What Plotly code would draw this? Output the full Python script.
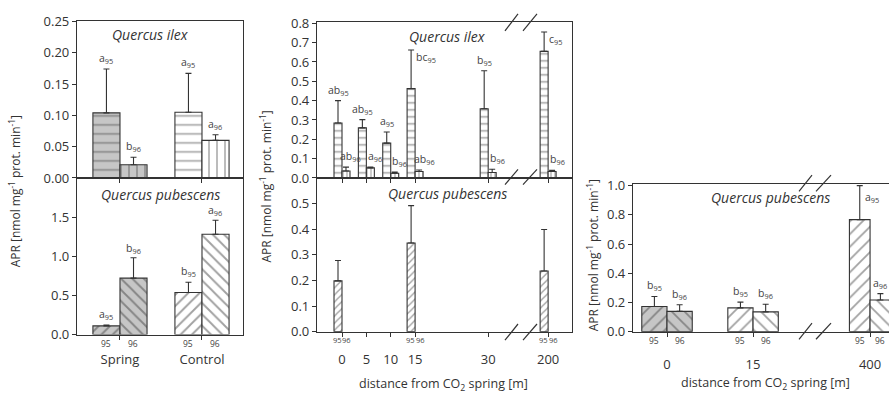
import plotly.graph_objects as go

W, H = 889, 396
FONT = "Open Sans"
TXT = "#333333"
LINE = "#333333"
GRAY = "#c6c6c6"

# ---------------- data ----------------
# Left panel: Spring vs Control, years 95/96
left_sites = ["Spring", "Control"]
left_ilex_95 = [0.104, 0.105]
left_ilex_95_se = [0.070, 0.062]
left_ilex_96 = [0.021, 0.060]
left_ilex_96_se = [0.012, 0.009]
left_ilex_lbl_95 = ["a", "a"]
left_ilex_lbl_96 = ["b", "a"]
left_pub_95 = [0.11, 0.537]
left_pub_95_se = [0.012, 0.13]
left_pub_96 = [0.72, 1.28]
left_pub_96_se = [0.26, 0.18]
left_pub_lbl_95 = ["a", "b"]
left_pub_lbl_96 = ["b", "a"]

# Middle panel: distance from CO2 spring
mid_dist = [0, 5, 10, 15, 30, 200]
mid_ilex_95 = [0.284, 0.259, 0.180, 0.462, 0.358, 0.655]
mid_ilex_95_se = [0.116, 0.043, 0.058, 0.200, 0.197, 0.100]
mid_ilex_96 = [0.036, 0.052, 0.024, 0.033, 0.028, 0.033]
mid_ilex_96_se = [0.020, 0.004, 0.006, 0.008, 0.017, 0.006]
mid_ilex_lbl_95 = ["ab", "ab", "a", "bc", "b", "c"]
mid_ilex_lbl_96 = ["ab", "a", "b", "ab", "b", "b"]
mid_pub_dist = [0, 15, 200]
mid_pub_95 = [0.198, 0.346, 0.237]
mid_pub_95_se = [0.080, 0.146, 0.162]

# Right panel
right_dist = [0, 15, 400]
right_pub_95 = [0.172, 0.163, 0.767]
right_pub_95_se = [0.069, 0.039, 0.233]
right_pub_96 = [0.139, 0.135, 0.217]
right_pub_96_se = [0.045, 0.053, 0.043]
right_lbl_95 = ["b", "b", "a"]
right_lbl_96 = ["b", "b", "a"]

# ---------------- helpers ----------------
def X(px):
    return px / W

def Y(py):
    return 1 - py / H

# broken axes: values beyond the break are placed after the gap
MID_BREAK_AT, MID_AFTER = 30, 42.3
RIGHT_BREAK_AT, RIGHT_AFTER = 15, 35.4

def mid_pos(d):
    return d if d <= MID_BREAK_AT else MID_AFTER

def right_pos(d):
    return d if d <= RIGHT_BREAK_AT else RIGHT_AFTER

fig = go.Figure()

def bar(x, y, se, ax, shape, size, fill, offset, width, sol=0.2):
    n = len(y)
    fills = fill if isinstance(fill, list) else [fill] * n
    fig.add_trace(go.Bar(
        x=x, y=y, xaxis="x" + ax, yaxis="y" + ax,
        offset=offset, width=width,
        marker=dict(color=fills, line=dict(color=LINE, width=1.1),
                    pattern=dict(shape=shape, size=size, solidity=sol,
                                 fgcolor="#1a1a1a", bgcolor=fills, fillmode="overlay")),
        error_y=dict(type="data", symmetric=False, array=se, arrayminus=[0] * n,
                     thickness=1.1, width=3, color=LINE),
        showlegend=False, hoverinfo="skip"))

annots = []

def lbl(ax, x, y, text, xanchor="center", yanchor="bottom", xshift=0, yshift=1, size=10.5):
    annots.append(dict(xref="x" + ax, yref="y" + ax, x=x, y=y, text=text, showarrow=False,
                       xanchor=xanchor, yanchor=yanchor, xshift=xshift, yshift=yshift,
                       font=dict(size=size, color="#444444", family=FONT)))

# ---------------- left panel ----------------
LW = 0.33
left_fill = [GRAY, "white"]
bar(left_sites, left_ilex_95, left_ilex_95_se, "", "-", 9, left_fill, -LW, LW, sol=0.17)
bar(left_sites, left_ilex_96, left_ilex_96_se, "", "|", 8, left_fill, 0, LW, sol=0.18)
bar(left_sites, left_pub_95, left_pub_95_se, "2", "/", 8, left_fill, -LW, LW, sol=0.24)
bar(left_sites, left_pub_96, left_pub_96_se, "2", "\\", 8, left_fill, 0, LW, sol=0.24)
for i, s in enumerate(left_sites):
    lbl("", s, left_ilex_95[i] + left_ilex_95_se[i], left_ilex_lbl_95[i] + "<sub>95</sub>", xshift=-13.5)
    lbl("", s, left_ilex_96[i] + left_ilex_96_se[i], left_ilex_lbl_96[i] + "<sub>96</sub>", xshift=13.5)
    lbl("2", s, left_pub_95[i] + left_pub_95_se[i], left_pub_lbl_95[i] + "<sub>95</sub>", xshift=-13.5)
    lbl("2", s, left_pub_96[i] + left_pub_96_se[i], left_pub_lbl_96[i] + "<sub>96</sub>",
        xshift=13.5, yshift=0)
    lbl("2", s, 0, "95", yanchor="top", xshift=-13.5, yshift=-1, size=8.5)
    lbl("2", s, 0, "96", yanchor="top", xshift=13.5, yshift=-1, size=8.5)

# ---------------- middle panel ----------------
MW = 1.64
mx = [mid_pos(d) for d in mid_dist]
bar(mx, mid_ilex_95, mid_ilex_95_se, "3", "-", 7, "white", -MW, MW, sol=0.22)
bar(mx, mid_ilex_96, mid_ilex_96_se, "3", "|", 4, "white", 0, MW, sol=0.28)
mpx = [mid_pos(d) for d in mid_pub_dist]
bar(mpx, mid_pub_95, mid_pub_95_se, "4", "/", 5, "white", -MW, MW, sol=0.28)
for i, p in enumerate(mx):
    t95 = mid_ilex_95[i] + mid_ilex_95_se[i]
    if mid_ilex_lbl_95[i] in ("bc", "c"):
        lbl("3", p - MW / 2, t95, mid_ilex_lbl_95[i] + "<sub>95</sub>", xanchor="left",
            yanchor="top", xshift=3, yshift=2)
    else:
        lbl("3", p - MW / 2, t95, mid_ilex_lbl_95[i] + "<sub>95</sub>")
    lbl("3", p + MW / 2, mid_ilex_96[i] + mid_ilex_96_se[i],
        mid_ilex_lbl_96[i] + "<sub>96</sub>", xshift=5)
for p in mpx:
    lbl("4", p - MW / 2, 0, "95", yanchor="top", xshift=-1, yshift=-1, size=7.5)
    lbl("4", p + MW / 2, 0, "96", yanchor="top", xshift=1, yshift=-1, size=7.5)

# ---------------- right panel ----------------
rx = [right_pos(d) for d in right_dist]
RW = [4.4, 4.4, 3.6]
right_fill = [GRAY, "white", "white"]
bar(rx, right_pub_95, right_pub_95_se, "5", "/", 9, right_fill, [-w for w in RW], RW, sol=0.2)
bar(rx, right_pub_96, right_pub_96_se, "5", "\\", 9, right_fill, [0] * 3, RW, sol=0.2)
for i, p in enumerate(rx):
    t95 = right_pub_95[i] + right_pub_95_se[i]
    if i == 2:
        lbl("5", p - RW[i] / 2, t95, right_lbl_95[i] + "<sub>95</sub>", xanchor="left",
            yanchor="top", xshift=3, yshift=-2)
    else:
        lbl("5", p - RW[i] / 2, t95, right_lbl_95[i] + "<sub>95</sub>")
    lbl("5", p + RW[i] / 2, right_pub_96[i] + right_pub_96_se[i], right_lbl_96[i] + "<sub>96</sub>")
    lbl("5", p - RW[i] / 2, 0, "95", yanchor="top", yshift=-1, size=8.5)
    lbl("5", p + RW[i] / 2, 0, "96", yanchor="top", yshift=-1, size=8.5)

# ---------------- axes ----------------
tickfont = dict(size=13, color=TXT, family=FONT)
common = dict(showline=True, linecolor=LINE, linewidth=1.2, showgrid=False, zeroline=False,
              ticks="outside", ticklen=4, tickcolor=LINE, tickfont=tickfont)

layout_axes = dict(
    xaxis=dict(common, domain=[X(77), X(243)], anchor="y", type="category",
               categoryorder="array", categoryarray=left_sites, range=[-0.524, 1.5],
               showticklabels=False, mirror=True),
    yaxis=dict(common, domain=[Y(177), Y(13)], anchor="x", range=[0, 0.2501],
               tickvals=[0, 0.05, 0.10, 0.15, 0.20, 0.25], tickformat=".2f", mirror=True),
    xaxis2=dict(common, domain=[X(77), X(243)], anchor="y2", type="category",
                categoryorder="array", categoryarray=left_sites, range=[-0.524, 1.5],
                mirror=True, ticklabelstandoff=9),
    yaxis2=dict(common, domain=[Y(341), Y(177)], anchor="x2", range=[0, 2.0],
                tickvals=[0, 0.5, 1.0, 1.5], tickformat=".1f", mirror=True),
    xaxis3=dict(common, domain=[X(317), X(572)], anchor="y3", range=[-5.13, 47.2],
                tickvals=mx, showticklabels=False, mirror=True),
    yaxis3=dict(common, domain=[Y(177), Y(14)], anchor="x3", range=[0, 0.805],
                tickvals=[i / 10 for i in range(9)], tickformat=".1f", mirror=True),
    xaxis4=dict(common, domain=[X(317), X(572)], anchor="y4", range=[-5.13, 47.2],
                tickvals=mx, ticktext=[str(d) for d in mid_dist], mirror=True,
                ticklabelstandoff=12),
    yaxis4=dict(common, domain=[Y(338), Y(177)], anchor="x4", range=[0, 0.6],
                tickvals=[i / 10 for i in range(6)], tickformat=".1f", mirror=True),
    xaxis5=dict(common, domain=[X(633), 1.0], anchor="y5", range=[-5.93, 38.7],
                tickvals=rx, ticktext=[str(d) for d in right_dist], mirror=True,
                ticklabelstandoff=17),
    yaxis5=dict(common, domain=[Y(338), Y(183)], anchor="x5", range=[0, 1.013],
                tickvals=[0, 0.2, 0.4, 0.6, 0.8, 1.0], tickformat=".1f", mirror=False),
)

# ---------------- texts ----------------
def ptxt(x, y, text, size=13, angle=0, italic=False, yanchor="middle", color=TXT):
    annots.append(dict(xref="paper", yref="paper", x=X(x), y=Y(y), text=text, showarrow=False,
                       xanchor="center", yanchor=yanchor, textangle=angle,
                       font=dict(size=size, color=color, family=FONT,
                                 style="italic" if italic else "normal")))

ytitle = "APR [nmol mg<sup>-1</sup> prot. min<sup>-1</sup>]"
ptxt(15, 191, ytitle, size=12, angle=-90)
ptxt(266, 186, ytitle, size=12, angle=-90)
ptxt(593, 258, ytitle, size=12, angle=-90)
xtitle = "distance from CO<sub>2</sub> spring [m]"
ptxt(443, 381, xtitle, size=12.5, yanchor="top")
ptxt(765, 380, xtitle, size=12.5, yanchor="top")
ptxt(150, 27, "Quercus ilex", size=14, italic=True)
ptxt(447, 29, "Quercus ilex", size=14, italic=True)
ptxt(160, 194, "Quercus pubescens", size=14, italic=True)
ptxt(447, 193, "Quercus pubescens", size=14, italic=True)
ptxt(770, 197, "Quercus pubescens", size=14, italic=True)

# ---------------- break marks ----------------
shapes = []
def slash(x0, y0, x1, y1):
    shapes.append(dict(type="line", xref="paper", yref="paper", x0=X(x0), y0=Y(y0),
                       x1=X(x1), y1=Y(y1), line=dict(color=LINE, width=1.2)))

for (yb, yt) in [(23, 5), (184, 168), (347, 330)]:
    slash(505, yb, 518, yt)
    slash(523, yb, 537, yt)
for (yb, yt) in [(191, 174), (346, 329)]:
    slash(799, yb, 812, yt)
    slash(816, yb, 831, yt)

fig.update_layout(
    width=W, height=H, margin=dict(l=0, r=0, t=0, b=0),
    paper_bgcolor="white", plot_bgcolor="white",
    font=dict(family=FONT, color=TXT),
    barmode="overlay", showlegend=False,
    annotations=annots, shapes=shapes,
    **layout_axes)

fig.write_html("out.html")
